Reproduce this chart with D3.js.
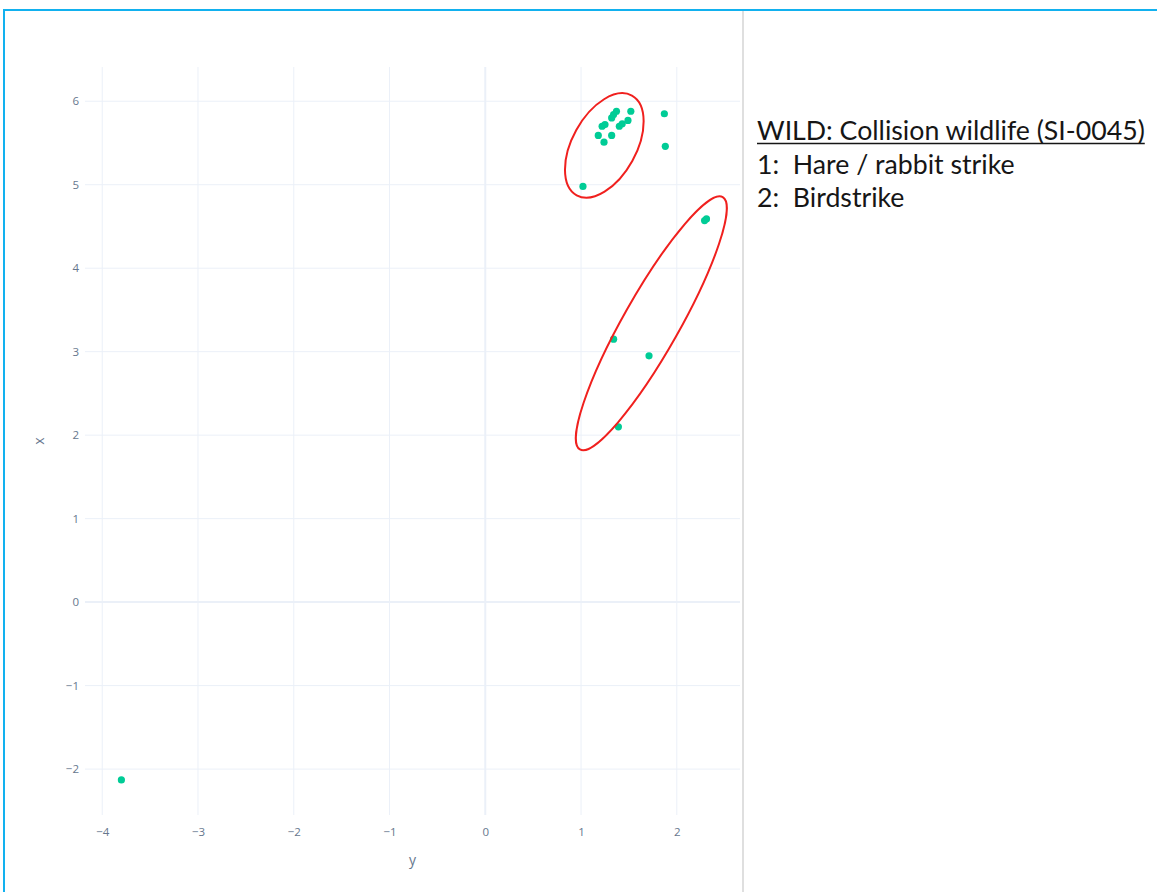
<!DOCTYPE html>
<html>
<head>
<meta charset="utf-8">
<script src="https://cdn.jsdelivr.net/npm/d3@7"></script>
<style>
  html, body { margin: 0; padding: 0; background: #ffffff; }
  svg { display: block; }
</style>
</head>
<body>
<svg id="chart" width="1157" height="892"></svg>
<script>
// ---- data ----
// horizontal axis (titled "y") and vertical axis (titled "x")
const yValues = [-3.80, 1.02, 1.32, 1.18, 1.24, 1.22, 1.25, 1.32, 1.34, 1.37, 1.40, 1.43, 1.49, 1.52, 1.87, 1.88, 2.29, 2.31, 1.34, 1.71, 1.39];
const xValues = [-2.13, 4.98, 5.59, 5.59, 5.51, 5.70, 5.72, 5.80, 5.84, 5.88, 5.70, 5.73, 5.77, 5.88, 5.85, 5.46, 4.57, 4.59, 3.15, 2.95, 2.10];
const hTicks = [-4, -3, -2, -1, 0, 1, 2];
const vTicks = [-2, -1, 0, 1, 2, 3, 4, 5, 6];
const hDomain = [-4.18, 2.66];
const vDomain = [-2.55, 6.41];
// annotation ellipse centres (data units: [y, x])
const ellipseCentres = [[1.243, 5.47], [1.734, 3.34]];
const legendLines = ["WILD: Collision wildlife (SI-0045)", "1:  Hare / rabbit strike", "2:  Birdstrike"];

// ---- layout ----
const plot = { left: 85, right: 740, top: 67, bottom: 815 };
const svg = d3.select("#chart");

const xs = d3.scaleLinear().domain(hDomain).range([plot.left, plot.right]);
const ys = d3.scaleLinear().domain(vDomain).range([plot.bottom, plot.top]);

const gridColor = "#ebf0f8";
const tickColor = "#67778e";
const fontFam = "'Open Sans', 'Noto Sans', sans-serif";

// grid
const grid = svg.append("g");
grid.selectAll("line.v").data(hTicks).join("line")
  .attr("x1", d => xs(d)).attr("x2", d => xs(d))
  .attr("y1", plot.top).attr("y2", plot.bottom)
  .attr("stroke", gridColor).attr("stroke-width", d => d === 0 ? 2 : 1);
grid.selectAll("line.h").data(vTicks).join("line")
  .attr("y1", d => ys(d)).attr("y2", d => ys(d))
  .attr("x1", plot.left).attr("x2", plot.right)
  .attr("stroke", gridColor).attr("stroke-width", d => d === 0 ? 2 : 1);

// axes (labels only)
const fmt = d3.format("");
const xAxis = d3.axisBottom(xs).tickValues(hTicks).tickSize(0).tickPadding(13).tickFormat(d => fmt(d));
const yAxis = d3.axisLeft(ys).tickValues(vTicks).tickSize(0).tickPadding(5).tickFormat(d => fmt(d));
const gx = svg.append("g").attr("transform", `translate(0,${plot.bottom})`).call(xAxis);
const gy = svg.append("g").attr("transform", `translate(${plot.left - 1},0)`).call(yAxis);
[gx, gy].forEach(g => {
  g.select(".domain").remove();
  g.selectAll("text").attr("fill", tickColor).style("font-family", fontFam).style("font-size", "11.5px");
});

// axis titles
svg.append("text").attr("x", (plot.left + plot.right) / 2).attr("y", 865)
  .attr("text-anchor", "middle").attr("fill", tickColor)
  .style("font-family", fontFam).style("font-size", "14px").text("y");
svg.append("text").attr("transform", `translate(44,${(plot.top + plot.bottom) / 2}) rotate(-90)`)
  .attr("text-anchor", "middle").attr("fill", tickColor)
  .style("font-family", fontFam).style("font-size", "14px").text("x");

// points
svg.append("g").selectAll("circle").data(yValues.map((v, i) => [v, xValues[i]])).join("circle")
  .attr("cx", d => xs(d[0])).attr("cy", d => ys(d[1]))
  .attr("r", 3.6).attr("fill", "#00cc96");

// annotation ellipses
const ellipseShape = [{ rx: 57, ry: 32, rot: -61 }, { rx: 145, ry: 28, rot: -60.5 }];
svg.append("g").selectAll("ellipse").data(ellipseCentres).join("ellipse")
  .attr("transform", (d, i) => `translate(${xs(d[0])},${ys(d[1])}) rotate(${ellipseShape[i].rot})`)
  .attr("rx", (d, i) => ellipseShape[i].rx).attr("ry", (d, i) => ellipseShape[i].ry)
  .attr("fill", "none").attr("stroke", "#f0201e").attr("stroke-width", 2);

// separator and frame
svg.append("line").attr("x1", 743).attr("x2", 743).attr("y1", 11).attr("y2", 892)
  .attr("stroke", "#d4d4d4").attr("stroke-width", 1.5);
svg.append("line").attr("x1", 4).attr("x2", 1157).attr("y1", 10).attr("y2", 10)
  .attr("stroke", "#12b1ef").attr("stroke-width", 2);
svg.append("line").attr("x1", 4).attr("x2", 4).attr("y1", 9).attr("y2", 892)
  .attr("stroke", "#12b1ef").attr("stroke-width", 2);

// legend text
const legendFont = "Lato, 'Liberation Sans', sans-serif";
const leg = svg.append("g");
const baselines = [140, 173.5, 207];
const t = leg.selectAll("text").data(legendLines).join("text")
  .attr("x", 757).attr("y", (d, i) => baselines[i])
  .attr("fill", "#161616").style("font-family", legendFont).style("font-size", "24px")
  .style("white-space", "pre").attr("xml:space", "preserve")
  .text(d => d);
// fit first line to measured width
const w0 = t.nodes()[0].getComputedTextLength();
const fs = 24 * 388 / w0;
t.style("font-size", fs + "px");
const w1 = t.nodes()[0].getComputedTextLength();
leg.append("line").attr("x1", 757).attr("x2", 757 + w1).attr("y1", 143.5).attr("y2", 143.5)
  .attr("stroke", "#161616").attr("stroke-width", 1.4);
</script>
</body>
</html>
